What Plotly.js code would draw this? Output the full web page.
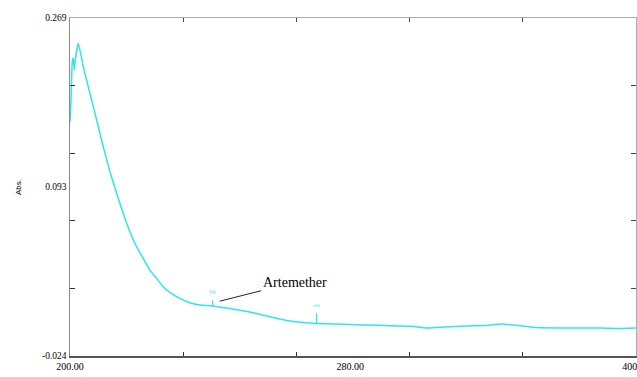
<!DOCTYPE html>
<html>
<head>
<meta charset="utf-8">
<script src="https://cdn.plot.ly/plotly-3.0.1.min.js"></script>
<style>html,body{margin:0;padding:0;background:#fff;}#chart{width:637px;height:377px;}</style>
</head>
<body>
<div id="chart"></div>
<script>
// Spectrum (wavelength in nm, absorbance)
var wavelength = [200.0, 200.35, 200.81, 201.16, 201.52, 201.76, 202.93, 204.69, 207.05, 209.42, 211.75, 214.11, 216.47, 218.80, 221.16, 223.53, 225.86, 228.22, 230.58, 232.91, 235.27, 238.80, 242.33, 245.86, 249.38, 250.4, 257.5, 263.5, 269.5, 274.1, 277.6, 284.7, 287.1, 298.8, 309.3, 316.4, 321.7, 327.0, 332.3, 340.0, 346.4, 352.7, 358.7, 364.7, 376.4, 387.0, 394.0, 399.9];
var absorbance = [0.1788, 0.1979, 0.2309, 0.2343, 0.2239, 0.2309, 0.2471, 0.2268, 0.2037, 0.1806, 0.1574, 0.1358, 0.1171, 0.0997, 0.0837, 0.0707, 0.0607, 0.0505, 0.0433, 0.0361, 0.0312, 0.0260, 0.0222, 0.0202, 0.0196, 0.0194, 0.0167, 0.0141, 0.0107, 0.0081, 0.0063, 0.0045, 0.0042, 0.0032, 0.0026, 0.0020, 0.0015, 0.0002, 0.0011, 0.0020, 0.0024, 0.0037, 0.0024, 0.0007, 0.0002, 0.0002, -0.0002, 0.0002];

// Peak-pick markers
var peakWavelength = [250.4, 287.1];
var peakBase = [0.0194, 0.0042];
var peakTop = [0.0242, 0.0132];
var peakLabelY = [0.0312, 0.0200];
var peakLabels = ["2", "1"];

// Axis labels
var xTickVals = [200, 299, 400];
var xTickText = ["200.00", "280.00", "400.00"];
var xMinorTicks = [240, 280, 320, 360];
var yTickVals = [0.269, 0.1225, -0.024];
var yTickText = ["0.269", "0.093", "-0.024"];
var yMinorTicks = [0.0346, 0.0932, 0.1518, 0.2104];

var cyan = "#2ee6ea";

var traces = [{
  x: wavelength, y: absorbance, type: "scatter", mode: "lines",
  line: {color: cyan, width: 1.5, shape: "spline", smoothing: 0.4},
  hoverinfo: "skip"
}];
peakWavelength.forEach(function (w, i) {
  traces.push({
    x: [w, w], y: [peakBase[i], peakTop[i]], type: "scatter", mode: "lines",
    line: {color: cyan, width: 1.2}, hoverinfo: "skip"
  });
});
// invisible trace to host the top/right frame axes
traces.push({x: [200], y: [0], xaxis: "x2", yaxis: "y2", type: "scatter", mode: "markers",
  marker: {opacity: 0}, hoverinfo: "skip"});

var annotations = peakWavelength.map(function (w, i) {
  return {x: w, y: peakLabelY[i], xref: "x", yref: "y", text: peakLabels[i],
    showarrow: false, textangle: -90, font: {family: "Liberation Sans", size: 7, color: cyan}};
});
annotations.push({
  x: 252.9, y: 0.0235, xref: "x", yref: "y", text: "Artemether",
  showarrow: true, arrowhead: 0, arrowwidth: 1, arrowcolor: "#222",
  ax: 75, ay: -19, font: {family: "Liberation Serif", size: 14, color: "#000"}
});
annotations.push({
  x: 0, y: 0.5, xref: "paper", yref: "paper", xanchor: "center", yanchor: "middle",
  xshift: -52, text: "Abs.", showarrow: false, textangle: -90,
  font: {family: "Liberation Sans", size: 8, color: "#000"}
});
annotations.push({
  x: 299, y: 0, xref: "x", yref: "paper", yanchor: "top", yshift: -18,
  text: "nm", showarrow: false, font: {family: "Liberation Sans", size: 9, color: "#000"}
});

var layout = {
  width: 637, height: 377,
  margin: {l: 70, r: 1, t: 18, b: 21, pad: 0},
  paper_bgcolor: "#fff", plot_bgcolor: "#fff",
  showlegend: false,
  xaxis: {
    range: [200, 400], tickmode: "array", tickvals: xTickVals, ticktext: xTickText,
    ticks: "", showgrid: false, zeroline: false, ticklabeloverflow: "allow",
    showline: true, linecolor: "#555", linewidth: 1.5, mirror: false,
    tickfont: {family: "Liberation Serif", size: 10, color: "#000"},
    minor: {tickmode: "array", tickvals: xMinorTicks, ticks: "inside", ticklen: 4, tickcolor: "#333", tickwidth: 1, showgrid: false}
  },
  yaxis: {
    range: [-0.024, 0.269], tickmode: "array", tickvals: yTickVals, ticktext: yTickText,
    ticks: "", showgrid: false, zeroline: false,
    showline: true, linecolor: "#888", linewidth: 1.5, mirror: false,
    tickfont: {family: "Liberation Serif", size: 9.5, color: "#000"},
    minor: {tickmode: "array", tickvals: yMinorTicks, ticks: "inside", ticklen: 5, tickcolor: "#333", tickwidth: 1, showgrid: false}
  },
  xaxis2: {
    overlaying: "x", side: "top", range: [200, 400], showticklabels: false,
    tickmode: "array", tickvals: [], ticks: "", showgrid: false, zeroline: false,
    showline: true, linecolor: "#aaa", linewidth: 1.2,
    minor: {tickmode: "array", tickvals: xMinorTicks, ticks: "inside", ticklen: 4, tickcolor: "#444", tickwidth: 1, showgrid: false}
  },
  yaxis2: {
    overlaying: "y", side: "right", range: [-0.024, 0.269], showticklabels: false,
    tickmode: "array", tickvals: [], ticks: "", showgrid: false, zeroline: false,
    showline: true, linecolor: "#aaa", linewidth: 1.2,
    minor: {tickmode: "array", tickvals: yMinorTicks, ticks: "inside", ticklen: 5, tickcolor: "#444", tickwidth: 1, showgrid: false}
  },
  annotations: annotations
};

Plotly.newPlot("chart", traces, layout, {displayModeBar: false, staticPlot: true});
</script>
</body>
</html>
